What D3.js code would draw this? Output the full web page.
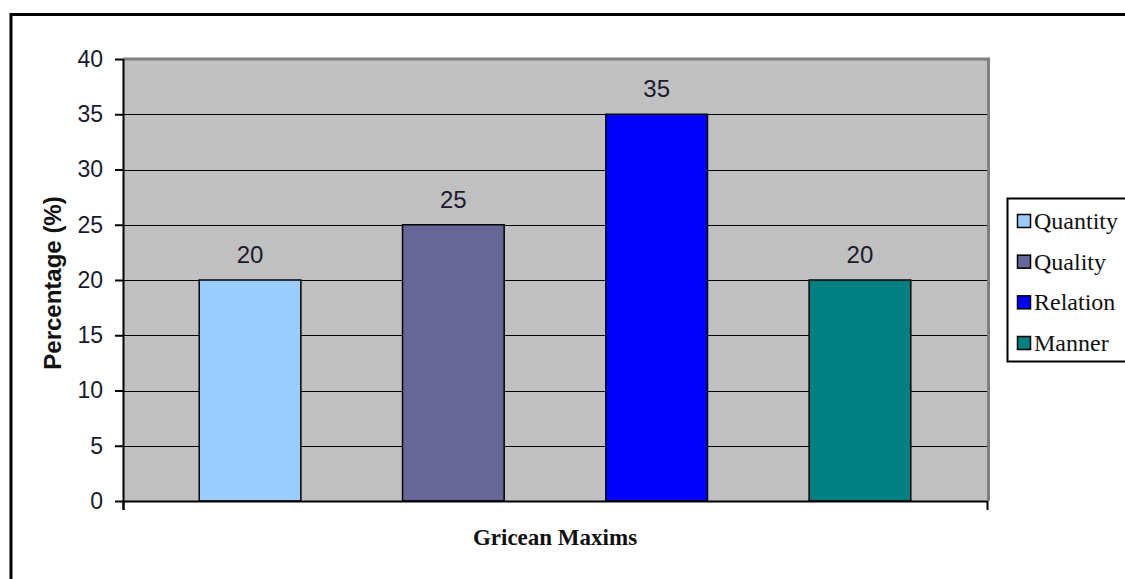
<!DOCTYPE html>
<html>
<head>
<meta charset="utf-8">
<script src="https://cdn.jsdelivr.net/npm/d3@7"></script>
<style>
  html, body { margin: 0; padding: 0; background: #fff; }
  svg { display: block; }
</style>
</head>
<body>
<svg id="chart" width="1125" height="579"></svg>
<script>
// Gricean maxims: share of responses per maxim
const series = ["Quantity", "Quality", "Relation", "Manner"];
const values = [20, 25, 35, 20];
const colors = ["#99CCFF", "#666699", "#0000FF", "#008080"];
const yTicks = [0, 5, 10, 15, 20, 25, 30, 35, 40];
const xTitle = "Gricean Maxims";
const yTitle = "Percentage (%)";

const svg = d3.select("#chart");
const W = 1125, H = 579;

svg.append("rect").attr("width", W).attr("height", H).attr("fill", "#fff");

// outer chart frame (runs past the right and bottom edges)
svg.append("path")
  .attr("d", `M11,${H + 5}V14.5H${W + 5}`)
  .attr("fill", "none").attr("stroke", "#000").attr("stroke-width", 3);

const plot = { left: 123, top: 59, right: 987, bottom: 501 };

const y = d3.scaleLinear().domain([0, 40]).range([plot.bottom, plot.top]);
const x = d3.scaleBand().domain(series)
  .range([plot.left, plot.right])
  .paddingInner(0.5).paddingOuter(0.375);

// plot background
svg.append("rect")
  .attr("x", plot.left).attr("y", plot.top)
  .attr("width", plot.right - plot.left).attr("height", plot.bottom - plot.top)
  .attr("fill", "#C0C0C0");

// gray top and right border of plot area
svg.append("path")
  .attr("d", `M${plot.left},${plot.top}H${plot.right + 1.5}V${plot.bottom}`)
  .attr("fill", "none").attr("stroke", "#808080").attr("stroke-width", 3);

// horizontal gridlines
svg.append("g").selectAll("line")
  .data(yTicks.filter(t => t > 0 && t < 40))
  .join("line")
  .attr("x1", plot.left).attr("x2", plot.right)
  .attr("y1", d => Math.round(y(d)) + 0.5).attr("y2", d => Math.round(y(d)) + 0.5)
  .attr("stroke", "#000").attr("stroke-width", 1.2);

// bars
svg.append("g").selectAll("rect")
  .data(series.map((s, i) => ({ s, v: values[i], c: colors[i] })))
  .join("rect")
  .attr("x", d => x(d.s)).attr("width", x.bandwidth())
  .attr("y", d => y(d.v)).attr("height", d => y(0) - y(d.v))
  .attr("fill", d => d.c).attr("stroke", "#000").attr("stroke-width", 1.5);

// value labels
svg.append("g").selectAll("text")
  .data(series.map((s, i) => ({ s, v: values[i] })))
  .join("text")
  .attr("x", d => x(d.s) + x.bandwidth() / 2)
  .attr("y", d => y(d.v) - 17)
  .attr("text-anchor", "middle")
  .attr("font-family", "Liberation Sans, Arial, sans-serif")
  .attr("font-size", 24)
  .attr("fill", "#1a1a2e")
  .text(d => d.v);

// y axis
const yAxis = svg.append("g")
  .attr("transform", `translate(${plot.left},0)`)
  .call(d3.axisLeft(y).tickValues(yTicks).tickSize(8).tickPadding(12));
yAxis.select(".domain")
  .attr("d", `M0.5,${plot.top}V${plot.bottom + 9}`)
  .attr("stroke", "#000").attr("stroke-width", 2);
yAxis.selectAll(".tick line").attr("stroke", "#000").attr("stroke-width", 2);
yAxis.selectAll(".tick text")
  .attr("font-family", "Liberation Sans, Arial, sans-serif")
  .attr("font-size", 23)
  .attr("fill", "#1a1a2e");

// x axis with end ticks only
const xAxisLine = d3.scaleLinear().domain([0, 1]).range([plot.left, plot.right]);
const xAxis = svg.append("g")
  .attr("transform", `translate(0,${plot.bottom})`)
  .call(d3.axisBottom(xAxisLine).tickValues([0, 1]).tickSize(9).tickFormat(""));
xAxis.select(".domain").attr("stroke", "#000").attr("stroke-width", 2)
  .attr("d", `M${plot.left},0.5H${plot.right}`);
xAxis.selectAll(".tick line").attr("stroke", "#000").attr("stroke-width", 2);

// axis titles
svg.append("text")
  .attr("x", (plot.left + plot.right) / 2)
  .attr("y", 545)
  .attr("text-anchor", "middle")
  .attr("font-family", "Liberation Serif, Times New Roman, serif")
  .attr("font-weight", "bold")
  .attr("font-size", 23)
  .attr("fill", "#111")
  .text(xTitle);

svg.append("text")
  .attr("transform", `translate(61,${(plot.top + plot.bottom) / 2 + 3}) rotate(-90)`)
  .attr("text-anchor", "middle")
  .attr("font-family", "Liberation Sans, Arial, sans-serif")
  .attr("font-weight", "bold")
  .attr("font-size", 24)
  .attr("fill", "#111")
  .text(yTitle);

// legend
const legend = svg.append("g");
legend.append("rect")
  .attr("x", 1007.5).attr("y", 198.5)
  .attr("width", 140).attr("height", 163)
  .attr("fill", "#fff").attr("stroke", "#000").attr("stroke-width", 2);

const legendY = d3.scalePoint().domain(series).range([221, 343]);
const items = legend.selectAll("g.item")
  .data(series.map((s, i) => ({ s, c: colors[i] })))
  .join("g").attr("class", "item")
  .attr("transform", d => `translate(0,${legendY(d.s)})`);
items.append("rect")
  .attr("x", 1017.5).attr("y", -6.5).attr("width", 13).attr("height", 13)
  .attr("fill", d => d.c).attr("stroke", "#000").attr("stroke-width", 1.5);
items.append("text")
  .attr("x", 1034).attr("y", 8)
  .attr("font-family", "Liberation Serif, Times New Roman, serif")
  .attr("font-size", 24)
  .attr("fill", "#111")
  .text(d => d.s);
</script>
</body>
</html>
